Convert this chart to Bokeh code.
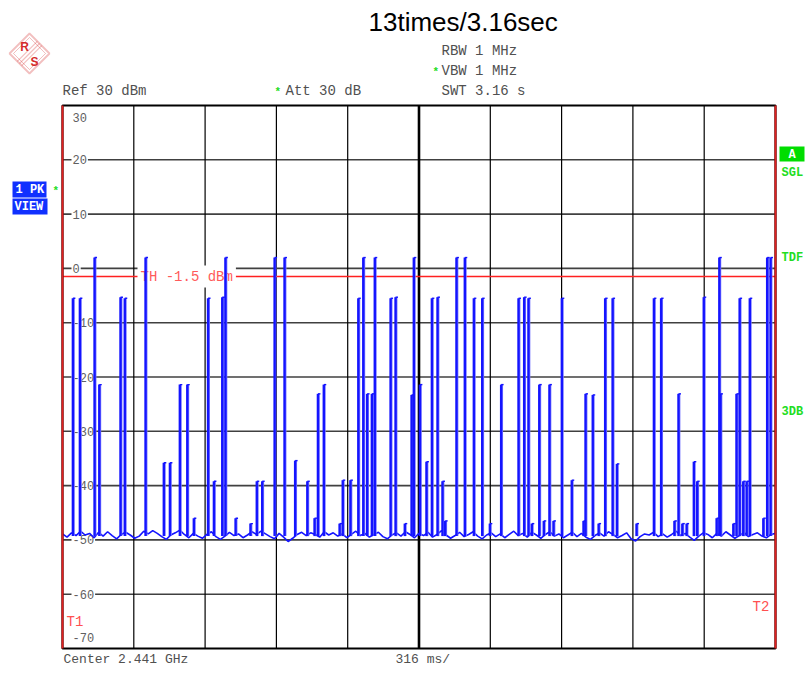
from bokeh.plotting import figure
from bokeh.models import Range1d, Label, PolyAnnotation, ColumnDataSource
from bokeh.embed import file_html
from bokeh.resources import INLINE

# ---------------- data ----------------
sweep_ms = 3160
y_top_dbm = 30
y_bottom_dbm = -70
x_grid_ms = [316, 632, 948, 1264, 1580, 1896, 2212, 2528, 2844]
center_ms = 1580
y_grid_dbm = [20, 10, 0, -10, -20, -30, -40, -50, -60]
y_tick_values = [30, 20, 10, 0, -10, -20, -30, -40, -50, -60, -70]
y_tick_labels = ["30", "20", "10", "0", "-10", "-20", "-30", "-40", "-50", "-60", "-70"]
threshold_dbm = -1.5

# noise floor samples, one every 20 ms
floor_ms = list(range(0, 3161, 20))
floor_dbm = [
    -48.9, -49.5, -48.7, -49.2, -48.4, -49.1, -48.8, -49.6, -48.6, -49.3,
    -48.5, -49.2, -49.8, -49.0, -48.6, -49.1, -49.7, -49.3, -48.4, -48.9,
    -48.3, -48.8, -49.4, -49.9, -49.1, -48.7, -48.2, -49.0, -49.6, -48.8,
    -49.3, -49.7, -49.0, -48.5, -49.4, -49.9, -49.3, -48.6, -49.2, -48.9,
    -49.6, -49.1, -48.5, -49.0, -48.4, -48.9, -49.4, -49.8, -48.8, -49.5,
    -50.3, -49.7, -49.0, -48.6, -49.2, -48.7, -49.0, -49.5, -48.5, -49.1,
    -48.7, -49.3, -48.9, -49.6, -49.0, -48.4, -49.2, -48.8, -49.5, -49.0,
    -48.6, -49.4, -49.8, -49.1, -48.7, -49.3, -48.5, -49.0, -49.6, -48.8,
    -49.2, -48.6, -49.5, -49.0, -48.3, -49.1, -49.7, -49.2, -48.6, -49.4,
    -49.0, -48.5, -49.3, -49.8, -49.1, -48.7, -49.4, -48.9, -49.6, -49.0,
    -48.4, -49.2, -48.8, -49.5, -48.6, -49.1, -49.7, -49.0, -48.5, -49.3,
    -48.9, -49.6, -49.1, -48.6, -49.4, -48.8, -49.5, -49.9, -49.2, -48.7,
    -49.3, -48.5, -49.0, -49.6, -49.2, -48.7, -49.8, -50.2, -49.4, -48.9,
    -49.1, -48.6, -49.4, -48.9, -49.5, -49.0, -48.4, -49.2, -48.8, -49.5,
    -50.1, -49.3, -48.7, -49.0, -49.6, -48.8, -49.3, -48.5, -49.1, -49.7,
    -49.2, -48.6, -49.4, -49.0, -48.7, -49.3, -49.6, -49.0, -48.8,
]

# burst peaks: time (ms) and peak level (dBm)
spike_ms = [
    46, 77, 142, 163, 257, 276, 368, 449, 476, 520,
    553, 582, 645, 671, 708, 722, 767, 833, 861, 885,
    940, 984, 1031, 1085, 1117, 1132, 1158, 1228, 1242, 1276,
    1311, 1333, 1350, 1371, 1384, 1454, 1476, 1517, 1547, 1557,
    1584, 1613, 1637, 1662, 1684, 1696, 1746, 1783, 1823, 1860,
    1894, 1944, 2021, 2046, 2065, 2080, 2113, 2133, 2158, 2176,
    2213, 2257, 2309, 2318, 2350, 2376, 2405, 2438, 2457, 2544,
    2621, 2653, 2712, 2730, 2747, 2766, 2798, 2813, 2842, 2899,
    2911, 2916, 2973, 2987, 3001, 3017, 3032, 3046, 3106, 3123,
    3138,
]
spike_dbm = [
    -5.5, -5.5, 2.0, -21.4, -5.3, -5.5, 2.0, -35.8, -35.8, -21.4,
    -21.4, -46.0, -5.5, -39.2, -5.3, 2.0, -46.0, -47.0, -39.2, -39.2,
    2.0, 2.0, -35.4, -39.2, -46.0, -23.1, -21.4, -47.0, -39.0, -39.0,
    -5.5, 2.0, -23.1, -23.1, 2.0, -5.5, -5.3, -47.0, -23.3, 2.0,
    -21.4, -35.6, -5.5, -5.3, -39.2, -46.5, 2.0, 2.0, -5.5, -5.5,
    -47.0, -21.4, -5.5, -5.3, -5.5, -47.0, -21.4, -46.5, -21.4, -46.5,
    -5.5, -39.0, -46.5, -23.1, -23.3, -47.0, -5.5, -5.5, -36.0, -47.0,
    -5.5, -5.5, -46.5, -23.1, -47.0, -47.0, -35.6, -39.2, -5.3, -46.0,
    2.0, -23.1, -47.0, -23.1, -5.5, -39.2, -39.2, -5.5, -46.0, 2.0,
    2.0,
]
spike_base_dbm = -49.3

# ---------------- layout / styles ----------------
BLUE = "#1414ff"
MONO = "Liberation Mono"
SANS = "Liberation Sans"
GRAY_TXT = "#505050"
GREEN = "#22dd22"
RED = "#ff2020"

W, H = 808, 668
# data-area edges in canvas pixels
FL, FT, FR, FB = 62, 105, 775, 648
ms_per_px = sweep_ms / (FR - FL)
db_per_px = (y_top_dbm - y_bottom_dbm) / (FB - FT)

p = figure(width=W, height=H, min_border=0,
           x_range=Range1d(-FL * ms_per_px, sweep_ms + (W - FR) * ms_per_px),
           y_range=Range1d(y_bottom_dbm - (H - FB) * db_per_px, y_top_dbm + FT * db_per_px),
           x_axis_location=None, y_axis_location=None,
           toolbar_location=None, tools="", output_backend="svg")
p.grid.visible = False
p.outline_line_color = None
p.background_fill_color = "white"
p.border_fill_color = "white"

n_h = len(y_grid_dbm)
n_v = len(x_grid_ms)
# grid
p.segment(x0=[0] * n_h, x1=[sweep_ms] * n_h, y0=y_grid_dbm, y1=y_grid_dbm,
          line_color="#404040", line_width=1.6, level="underlay")
p.segment(x0=x_grid_ms, x1=x_grid_ms, y0=[y_bottom_dbm] * n_v, y1=[y_top_dbm] * n_v,
          line_color="black", line_width=[2.6 if t == center_ms else 1.2 for t in x_grid_ms],
          level="underlay")
# threshold line
p.segment(x0=[0], x1=[sweep_ms], y0=[threshold_dbm], y1=[threshold_dbm],
          line_color=RED, line_width=1.5, level="underlay")

# tick labels inside the frame
for v, s in zip(y_tick_values, y_tick_labels):
    off = 0
    if v == y_top_dbm:
        off = -12
    elif v == y_bottom_dbm:
        off = 11
    p.add_layout(Label(x=0, y=v, x_offset=9, y_offset=off, text=s,
                       text_font=MONO, text_font_size="12px", text_color="#606060",
                       text_baseline="middle", background_fill_color="white",
                       padding=1, level="underlay"))
p.add_layout(Label(x=0, y=threshold_dbm, x_offset=75, text="TH -1.5 dBm",
                   text_font=MONO, text_font_size="14px", text_color="#ff5a5a",
                   text_baseline="middle", background_fill_color="white",
                   padding=3, level="underlay"))

# trace
p.line(floor_ms, floor_dbm, line_color=BLUE, line_width=1.6)
src = ColumnDataSource(dict(t=spike_ms, pk=spike_dbm,
                            base=[spike_base_dbm] * len(spike_ms),
                            t2=[t + 5 for t in spike_ms],
                            tf=[t + 11 for t in spike_ms]))
p.segment(x0="t2", y0="base", x1="t2", y1="pk", source=src, line_color="#7a7aff", line_width=1.6)
p.segment(x0="t", y0="base", x1="t", y1="pk", source=src, line_color=BLUE, line_width=2.4)
p.segment(x0="t", y0="pk", x1="tf", y1="pk", source=src, line_color=BLUE, line_width=1.4)

# frame and T1 / T2 marker lines
p.quad(left=[0], right=[sweep_ms], bottom=[y_bottom_dbm], top=[y_top_dbm],
       fill_alpha=0, line_color="black", line_width=2.2, level="overlay")
p.segment(x0=[0, sweep_ms], x1=[0, sweep_ms], y0=[y_bottom_dbm] * 2, y1=[y_top_dbm] * 2,
          line_color="#e02020", line_width=2, level="overlay")


def sx(px):
    return px


def sy(py):
    return H - py


def text(s, px, py, color, size, font=MONO, bold=False, align="left", bg=None, pad=0):
    p.add_layout(Label(x=sx(px), y=sy(py), x_units="screen", y_units="screen", text=s,
                       text_color=color, text_font=font, text_font_size=f"{size}px",
                       text_font_style="bold" if bold else "normal",
                       text_align=align, text_baseline="middle",
                       background_fill_color=bg, padding=pad))


def poly(pts, color, lw=1.3, fill=None):
    p.add_layout(PolyAnnotation(xs=[sx(a) for a, b in pts], ys=[sy(b) for a, b in pts],
                                xs_units="screen", ys_units="screen",
                                line_color=color, line_width=lw,
                                fill_color=fill, fill_alpha=1 if fill else 0))


def box(x0, y0, x1, y1, color):
    poly([(x0, y0), (x1, y0), (x1, y1), (x0, y1)], None, lw=0, fill=color)


text("13times/3.16sec", 368, 21, "black", 26, font=SANS)
text("RBW 1 MHz", 441, 50, GRAY_TXT, 14)
text("*", 432, 71, GREEN, 11, bold=True)
text("VBW 1 MHz", 441, 70, GRAY_TXT, 14)
text("Ref  30 dBm", 62, 90, GRAY_TXT, 14)
text("*", 274, 91, GREEN, 11, bold=True)
text("Att  30 dB", 285, 90, GRAY_TXT, 14)
text("SWT 3.16 s", 441, 90, GRAY_TXT, 14)
text("Center 2.441 GHz", 63, 659, GRAY_TXT, 13)
text("316 ms/", 395, 659, GRAY_TXT, 13)
text("T1", 66, 621, "#ff5050", 14)
text("T2", 752, 606, "#ff5050", 14)

box(12, 181, 46, 197, "#1030ff")
box(12, 198, 47, 214, "#1030ff")
text("1 PK", 15, 189.5, "white", 12, bold=True)
text("VIEW", 14, 206.5, "white", 12, bold=True)
text("*", 52, 190, GREEN, 11, bold=True)
box(779, 146, 804, 161, "#00dd00")
text("A", 791.5, 154, "white", 12, bold=True, align="center")
text("SGL", 781, 172, GREEN, 12, bold=True)
text("TDF", 781, 257, GREEN, 12, bold=True)
text("3DB", 781, 411, GREEN, 12, bold=True)

# R&S logo
LOGO_RED = "#d42a2a"
poly([(29, 33), (49, 53), (29, 73), (9, 53)], LOGO_RED, lw=1.8)
poly([(29, 37), (45, 53), (29, 69), (13, 53)], LOGO_RED, lw=1.0)
for d in (-2.2, 0, 2.2):
    poly([(39 + d, 43 + d), (19 + d, 63 + d)], LOGO_RED, lw=1.2)
text("R", 24, 46, LOGO_RED, 12, font=SANS, bold=True, align="center")
text("S", 34, 61, LOGO_RED, 12, font=SANS, bold=True, align="center")

open("out.html", "w").write(file_html(p, INLINE))
